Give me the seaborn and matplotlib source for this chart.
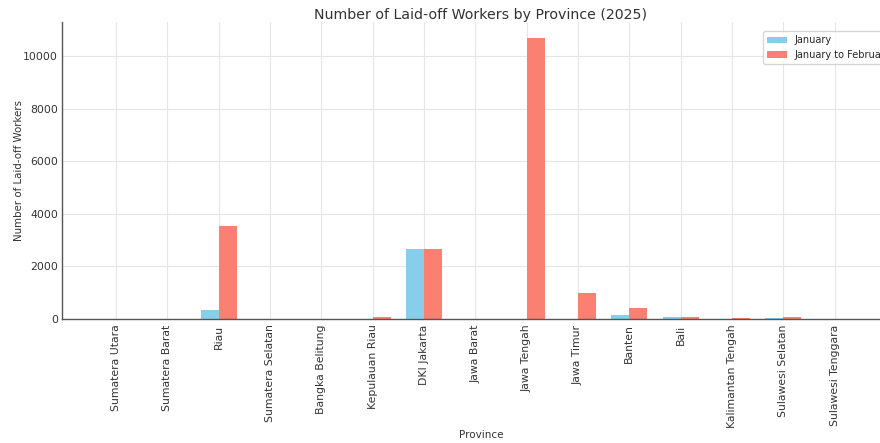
import pandas as pd
import numpy as np
import matplotlib
matplotlib.use('Agg')
import matplotlib.pyplot as plt
import seaborn as sns

# ── data ─────────────────────────────────────────────
provinces = ['Sumatera Utara', 'Sumatera Barat', 'Riau', 'Sumatera Selatan',
             'Bangka Belitung', 'Kepulauan Riau', 'DKI Jakarta', 'Jawa Barat',
             'Jawa Tengah', 'Jawa Timur', 'Banten', 'Bali',
             'Kalimantan Tengah', 'Sulawesi Selatan', 'Sulawesi Tenggara']
january     = [0, 0, 330, 10, 0, 0, 2650, 10, 0, 0, 150, 60, 0, 50, 0]
jan_to_feb  = [0, 0, 3530, 15, 0, 80, 2650, 15, 10700, 980, 430, 70, 50, 60, 0]
series_names = ['January', 'January to February']

df = pd.DataFrame({
    'Province': provinces * 2,
    'Workers': january + jan_to_feb,
    'Period': [series_names[0]] * len(provinces) + [series_names[1]] * len(provinces),
})

sns.set_style('whitegrid')
plt.rcParams['font.family'] = ['DejaVu Sans']

fig = plt.figure(figsize=(8.8, 4.43), dpi=100)
ax = fig.add_axes([0.0705, 0.28, 0.952, 0.67])

sns.barplot(data=df, x='Province', y='Workers', hue='Period',
            palette=['#87CEEB', '#FA8072'], width=0.7, saturation=1,
            linewidth=0, edgecolor='none', ax=ax)

ax.set_xlim(-1.05, 15.27)
ax.set_ylim(0, 11290)
ax.set_title('Number of Laid-off Workers by Province (2025)', fontsize=10.2,
             color='#333333', pad=2)
ax.set_xlabel('Province', fontsize=7.5, color='#333333', labelpad=1)
ax.set_ylabel('Number of Laid-off Workers', fontsize=7.4, color='#333333', labelpad=-1)
ax.tick_params(axis='x', rotation=90, labelsize=7.8, colors='#333333', length=3, pad=1)
ax.tick_params(axis='y', labelsize=7.8, colors='#333333', length=2, pad=1)
ax.grid(True, color='#e6e6e6', linewidth=0.8)
ax.set_axisbelow(True)

for s in ['top', 'right']:
    ax.spines[s].set_visible(False)
for s in ['left', 'bottom']:
    ax.spines[s].set_color('#555555')
    ax.spines[s].set_linewidth(1.0)

ax.legend(title=None, loc='upper right', fontsize=7, frameon=True,
          bbox_to_anchor=(1.0, 0.985))

plt.savefig('out.png', dpi=100)
plt.close()
